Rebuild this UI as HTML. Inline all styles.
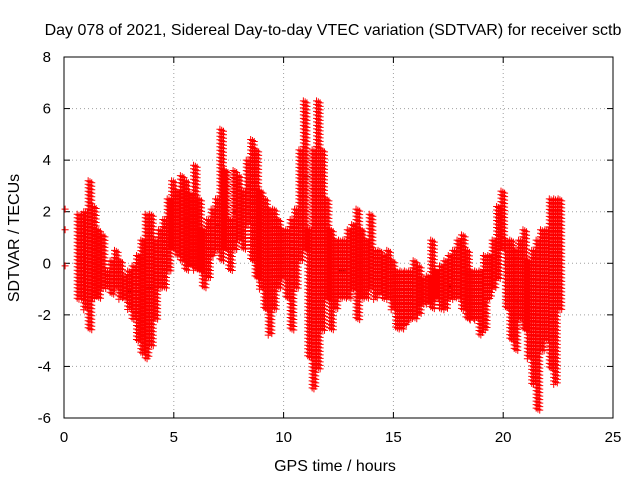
<!DOCTYPE html>
<html><head><meta charset="utf-8"><style>
body{margin:0;background:#fff;}
svg{display:block;font-family:"Liberation Sans",sans-serif;}
</style></head><body>
<svg id="chart" width="640" height="480">
<rect width="640" height="480" fill="#fff"/>
<text x="333" y="35" font-size="16" text-anchor="middle">Day 078 of 2021, Sidereal Day-to-day VTEC variation (SDTVAR) for receiver sctb</text>
<text x="335" y="471" font-size="16" text-anchor="middle">GPS time / hours</text>
<text x="19" y="238" font-size="16" text-anchor="middle" transform="rotate(-90 19 238)">SDTVAR / TECUs</text>
<g id="grid"></g>
<g id="marks"></g>
<rect x="64" y="57" width="549" height="361" fill="none" stroke="#000" stroke-width="1"/>
</svg>
<script>
const xTicks=[0,5,10,15,20,25];
const yTicks=[-6,-4,-2,0,2,4,6,8];
const times=[0.7,0.9,1.0,1.2,1.4,1.6,1.8,2.0,2.2,2.4,2.6,2.8,3.0,3.2,3.4,3.6,3.8,4.0,4.2,4.4,4.6,4.8,5.0,5.2,5.4,5.6,5.8,6.0,6.2,6.4,6.6,6.8,7.0,7.2,7.4,7.6,7.8,8.0,8.2,8.4,8.6,8.8,9.0,9.2,9.4,9.6,9.8,10.0,10.2,10.4,10.6,10.8,11.0,11.2,11.4,11.6,11.8,12.0,12.2,12.4,12.6,12.8,13.0,13.2,13.4,13.6,13.8,14.0,14.2,14.4,14.6,14.8,15.0,15.2,15.4,15.6,15.8,16.0,16.2,16.4,16.6,16.8,17.0,17.2,17.4,17.6,17.8,18.0,18.2,18.4,18.6,18.8,19.0,19.2,19.4,19.6,19.8,20.0,20.2,20.4,20.6,20.8,21.0,21.2,21.4,21.6,21.8,22.0,22.2,22.4,22.6];
const highs=[1.9,1.9,2.0,3.2,2.2,1.3,1.1,-0.3,0.1,0.5,0.1,-0.5,-0.3,-0.1,0.3,0.9,1.9,1.9,0.9,1.3,1.7,2.5,3.2,2.8,3.4,3.2,2.7,3.8,2.5,1.3,1.7,2.1,2.5,5.2,3.6,1.7,3.6,3.4,2.8,4.0,4.8,4.4,2.8,2.5,2.1,2.1,1.7,1.3,1.3,1.7,2.1,4.4,6.3,1.3,4.4,6.3,4.4,2.5,1.3,0.9,0.9,0.9,1.3,1.5,2.1,1.3,0.9,1.9,0.5,0.5,0.3,0.5,0.1,-0.3,-0.3,-0.3,-0.3,0.1,-0.1,-0.6,-0.5,0.9,-0.3,-0.1,0.1,0.3,0.5,0.9,1.1,0.5,-0.3,-0.3,-0.3,0.3,0.3,0.9,2.2,2.8,0.9,0.9,0.5,0.9,1.3,0.1,0.5,0.9,1.3,1.3,2.5,2.5,2.5];
const lows=[-1.4,-1.4,-1.8,-2.6,-1.4,-1.4,-1.0,-1.0,-1.2,-1.0,-1.4,-1.4,-1.8,-2.2,-3.0,-3.5,-3.7,-3.2,-2.2,-1.0,-1.0,-0.3,0.5,0.3,0.1,-0.3,-0.1,-0.3,-0.3,-1.0,-0.6,0.3,0.5,0.1,0.5,-0.3,0.5,0.9,0.5,1.5,0.1,-0.6,-1.0,-1.8,-2.8,-1.8,-1.0,-0.6,-1.4,-2.6,-1.0,0.1,0.5,-3.7,-4.9,-4.1,-2.6,-1.4,-2.6,-1.8,-1.4,-1.4,-1.4,-1.0,-2.2,-1.4,-1.4,-1.0,-1.4,-1.2,-1.4,-1.4,-1.8,-2.6,-2.6,-2.4,-2.2,-2.2,-2.0,-1.6,-1.6,-1.8,-1.4,-1.8,-1.8,-1.4,-1.4,-1.4,-1.8,-2.2,-2.2,-2.2,-2.8,-2.6,-1.4,-1.0,-0.6,0.5,-1.8,-3.0,-3.4,-2.2,-2.6,-3.7,-4.7,-5.7,-3.4,-3.0,-4.1,-4.7,-1.8];
const isoTimes=[0.05,0.05,0.05];
const isoValues=[2.1,1.3,-0.1];
const X0=64,X1=613,Y0=418,Y1=57;
const xs=t=>X0+(t-0)/(25-0)*(X1-X0);
const ys=v=>Y0-(v+6)/(8+6)*(Y0-Y1);
const NS="http://www.w3.org/2000/svg";
const svg=document.getElementById('chart');
const grid=document.getElementById('grid');
const marks=document.getElementById('marks');
function mk(tag,attrs,parent){const e=document.createElementNS(NS,tag);for(const k in attrs)e.setAttribute(k,attrs[k]);parent.appendChild(e);return e;}
xTicks.forEach(t=>{
  const x=xs(t);
  if(t>0&&t<25){const g=mk('line',{x1:x,x2:x,y1:Y1,y2:Y0,stroke:'#a0a0a0','stroke-dasharray':'1,3'},grid);
  
  }
  mk('line',{x1:x,x2:x,y1:Y0,y2:Y0-6,stroke:'#000'},grid);
  mk('line',{x1:x,x2:x,y1:Y1,y2:Y1+6,stroke:'#000'},grid);
  const l=mk('text',{x:x,y:Y0+24,'font-size':15,'text-anchor':'middle'},svg);
  l.textContent=t;
  
  
});
yTicks.forEach(v=>{
  const y=ys(v);
  if(v>-6&&v<8){const g=mk('line',{x1:X0,x2:X1,y1:y,y2:y,stroke:'#a0a0a0','stroke-dasharray':'1,3'},grid);
  
  }
  mk('line',{x1:X0,x2:X0+6,y1:y,y2:y,stroke:'#000'},grid);
  mk('line',{x1:X1,x2:X1-6,y1:y,y2:y,stroke:'#000'},grid);
  const l=mk('text',{x:X0-13,y:y+5,'font-size':15,'text-anchor':'end'},svg);
  l.textContent=v;
  
  
});
function plus(x,y){return `M${x-3.5},${y}h7M${x},${y-3.5}v7`;}
let dBlack='',dRed='';
times.forEach((t,i)=>{
  const x=xs(t),yTop=ys(highs[i]),yBot=ys(lows[i]);
  [-2.2,-0.4,1.4].forEach((dx,k)=>{
    for(let y=yTop+k;y<=yBot+0.1;y+=3.5){dRed+=plus(x+dx,y);}
  });
  if(i%4===0)dBlack+=plus(x+1.5,(yTop+yBot)/2+1);
});
isoTimes.forEach((t,i)=>{dRed+=plus(xs(t),ys(isoValues[i]));});
const pb=mk('path',{d:dBlack,stroke:'#000','stroke-width':1,fill:'none'},marks);


const pr=mk('path',{d:dRed,stroke:'#ff0000','stroke-width':1,fill:'none'},marks);


</script>
</body></html>
